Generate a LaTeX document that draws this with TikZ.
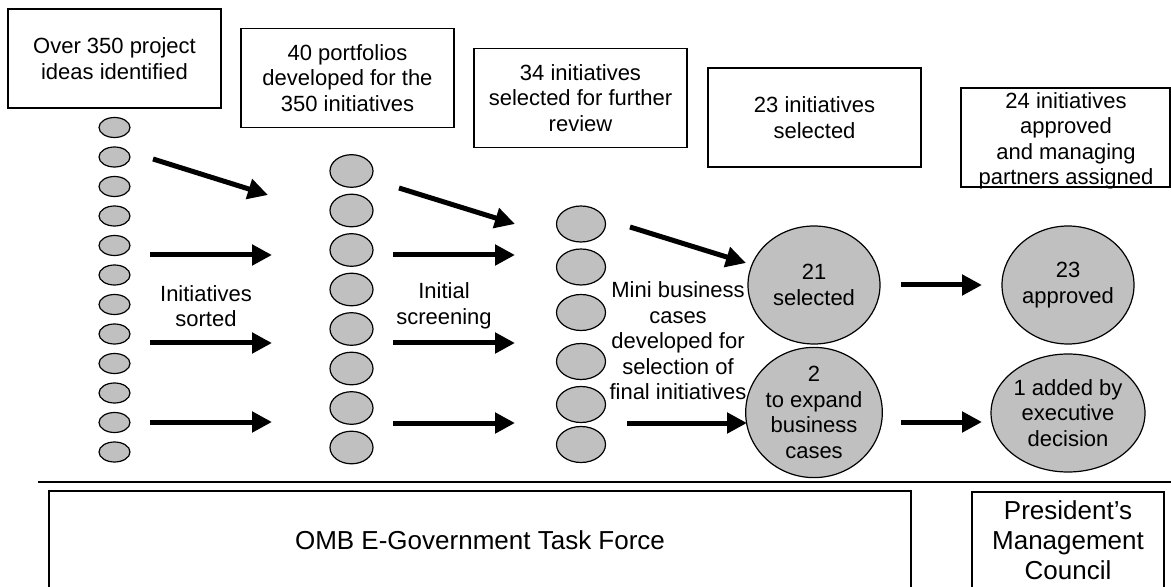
\documentclass[tikz,border=0pt]{standalone}
\usepackage{fontspec}
\setmainfont{Liberation Sans}
\usetikzlibrary{shapes.geometric,arrows.meta}
\definecolor{ovalgray}{HTML}{C0C0C0}
\begin{document}
\begin{tikzpicture}[x=0.5pt,y=-0.5pt,
  box/.style={draw, line width=0.75pt, inner sep=0pt, minimum width=106.5pt, minimum height=49.5pt},
  bigbox/.style={draw, line width=0.75pt, inner sep=0pt},
  txt/.style={align=center, inner sep=0pt, font=\fontsize{11}{12.75}\selectfont},
  bigtxt/.style={align=center, inner sep=0pt, font=\fontsize{13}{15}\selectfont},
  ovalA/.style={ellipse, draw, fill=ovalgray, line width=0.6pt, inner sep=0pt, minimum width=15.5pt, minimum height=10pt},
  ovalB/.style={ellipse, draw, fill=ovalgray, line width=0.6pt, inner sep=0pt, minimum width=21.5pt, minimum height=16.3pt},
  ovalC/.style={ellipse, draw, fill=ovalgray, line width=0.6pt, inner sep=0pt, minimum width=24.5pt, minimum height=18pt},
  ovalD/.style={ellipse, draw, fill=ovalgray, line width=0.6pt, inner sep=0pt, minimum width=66pt, minimum height=59pt, align=center, font=\fontsize{11}{12.75}\selectfont},
  flow/.style={line width=2.5pt, -{Triangle[length=10pt,width=10pt]}}
]
\useasboundingbox (0,0) rectangle (1171,587);
\clip (0,0) rectangle (1171,587);

% top boxes
\node[box] (b1) at (114.5,58.5) {};
\node[txt] (b1t) at (b1) {Over 350 project\\ideas identified};
\node[box] (b2) at (347.5,78) {};
\node[txt] (b2t) at (b2) {40 portfolios\\developed for the\\350 initiatives};
\node[box] (b3) at (580.5,98) {};
\node[txt] (b3t) at (b3) {34 initiatives\\selected for further\\review};
\node[box] (b4) at (814.5,117.5) {};
\node[txt] (b4t) at (b4) {23 initiatives\\selected};
\node[box, minimum width=104.5pt] (b5) at (1065.5,137.5) {};
\node[txt] (b5t) at (1066,141) {24 initiatives\\approved\\and managing\\partners assigned};

% column 1 ovals
\foreach \i in {0,...,11}{
  \node[ovalA] (c1-\i) at (114.5,127.5+29.5*\i) {};
}
% column 2 ovals
\foreach \i in {0,...,7}{
  \node[ovalB] (c2-\i) at (351.5,171+39.5*\i) {};
}
% column 3 ovals
\foreach \y [count=\i] in {224,267,312.5,361.5,404.5,444.5}{
  \node[ovalC] (c3-\i) at (581,\y) {};
}

% big ovals
\node[ovalD] (sel) at (814,285) {21\\selected};
\node[ovalD] (exp) at (814,412.5) {2\\to expand\\business\\cases};
\node[ovalD] (appr) at (1068,285) {23\\approved};
\node[ovalD] (add) at (1068,413) {1 added by\\executive\\decision};

% labels
\node[txt] (l1) at (206,306) {Initiatives\\sorted};
\node[txt] (l2) at (444,306) {Initial\\screening};
\node[txt] (l3) at (678,341) {Mini business\\cases\\developed for\\selection of\\final initiatives};

% arrow end points
\coordinate (a1s) at (153,159);  \coordinate (a1e) at (268,195);
\coordinate (a2s) at (150,255);  \coordinate (a2e) at (272,255);
\coordinate (a3s) at (150,343);  \coordinate (a3e) at (272,343);
\coordinate (a4s) at (150,422);  \coordinate (a4e) at (272,422);
\coordinate (a5s) at (399,188);  \coordinate (a5e) at (515,224);
\coordinate (a6s) at (393,255);  \coordinate (a6e) at (515,255);
\coordinate (a7s) at (393,343);  \coordinate (a7e) at (515,343);
\coordinate (a8s) at (393,423);  \coordinate (a8e) at (515,423);
\coordinate (a9s) at (630,227);  \coordinate (a9e) at (746,263);
\coordinate (a10s) at (627,423); \coordinate (a10e) at (747,423);
\coordinate (a11s) at (901,285); \coordinate (a11e) at (982,285);
\coordinate (a12s) at (901,422); \coordinate (a12e) at (982,422);
\foreach \k in {1,...,12}{
  \draw[flow] (a\k s) -- (a\k e);
}

% separator
\coordinate (sepL) at (38,482);
\coordinate (sepR) at (1171,482);
\draw[line width=0.8pt] (sepL) -- (sepR);

% bottom boxes
\node[bigbox, minimum width=431pt, minimum height=55pt] (omb) at (480,546) {};
\node[bigtxt] (ombt) at (480,540) {OMB E-Government Task Force};
\node[bigbox, minimum width=96pt, minimum height=55pt] (pmc) at (1068,547) {};
\node[bigtxt] (pmct) at (1068,540) {President’s\\Management\\Council};
\end{tikzpicture}
\end{document}
